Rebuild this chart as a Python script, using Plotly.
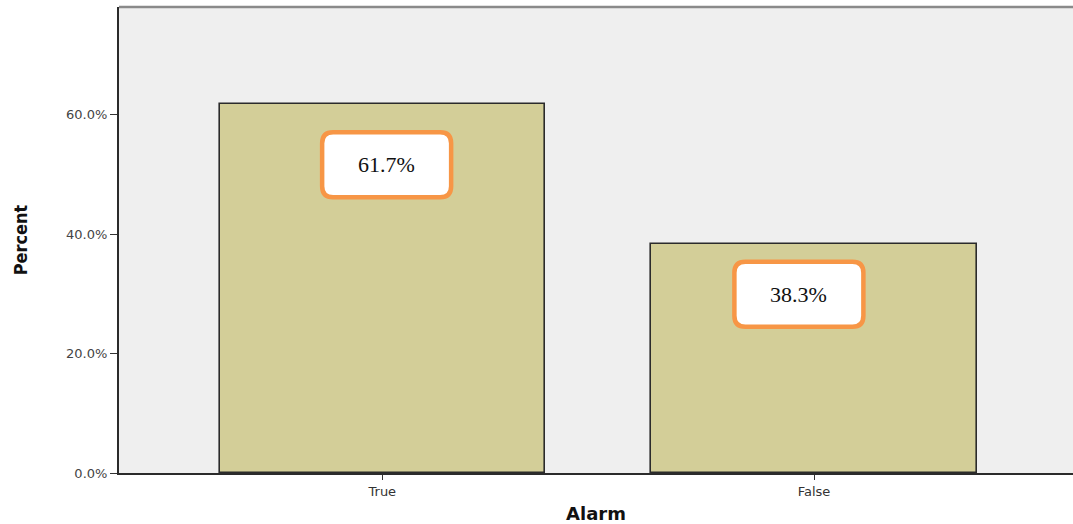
import plotly.graph_objects as go

# Alarm outcome shares (percent of cases)
categories = ["True", "False"]
percent = [61.7, 38.3]
label_text = ["61.7%", "38.3%"]
y_ticks = [0, 20, 40, 60]
y_tick_text = ["0.0%", "20.0%", "40.0%", "60.0%"]

x_pos = list(range(len(categories)))

# where each callout box sits (bar offset in category units, height in %)
box_dx = [0.01, -0.035]
box_y = [51.6, 29.9]

fig = go.Figure()
fig.add_trace(go.Bar(
    x=x_pos,
    y=percent,
    width=0.753,
    marker=dict(color="#D3CE98", line=dict(color="#2b2b2b", width=1.6)),
    hoverinfo="skip",
    showlegend=False,
))


def rounded_rect(w, h, r):
    x0, x1, y0, y1 = -w / 2, w / 2, -h / 2, h / 2
    return (
        f"M {x0 + r},{y0} L {x1 - r},{y0} Q {x1},{y0} {x1},{y0 + r} "
        f"L {x1},{y1 - r} Q {x1},{y1} {x1 - r},{y1} "
        f"L {x0 + r},{y1} Q {x0},{y1} {x0},{y1 - r} "
        f"L {x0},{y0 + r} Q {x0},{y0} {x0 + r},{y0} Z"
    )


shapes = []
annotations = []
for i, txt in enumerate(label_text):
    cx = x_pos[i] + box_dx[i]
    shapes.append(dict(
        type="path",
        xref="x", yref="y",
        xsizemode="pixel", ysizemode="pixel",
        xanchor=cx, yanchor=box_y[i],
        path=rounded_rect(129, 65, 11),
        fillcolor="white",
        line=dict(color="#F79646", width=4.5),
        layer="above",
    ))
    annotations.append(dict(
        x=cx, y=box_y[i], xref="x", yref="y",
        text=txt, showarrow=False,
        font=dict(family="Liberation Serif, Times New Roman, serif", size=22, color="#111111"),
    ))

# grey frame line along the top of the plotting area
shapes.append(dict(
    type="line", xref="paper", yref="paper",
    x0=0, x1=1, y0=1, y1=1,
    line=dict(color="#8a8a8a", width=2.5),
))

fig.update_layout(
    width=1073, height=524,
    margin=dict(l=119, r=0, t=7, b=51),
    paper_bgcolor="white",
    plot_bgcolor="#EFEFEF",
    shapes=shapes,
    annotations=annotations,
    bargap=0,
    xaxis=dict(
        range=[-0.61, 1.60],
        tickvals=x_pos,
        ticktext=categories,
        ticks="outside", ticklen=5, tickwidth=1.2, tickcolor="#333333",
        showline=True, linecolor="#2b2b2b", linewidth=2,
        showgrid=False, zeroline=False,
        tickfont=dict(family="DejaVu Sans, sans-serif", size=13, color="#333333"),
        title=dict(text="<b>Alarm</b>", standoff=12,
                   font=dict(family="DejaVu Sans, sans-serif", size=18, color="#111111")),
        fixedrange=True,
    ),
    yaxis=dict(
        range=[0, 78],
        tickvals=y_ticks,
        ticktext=y_tick_text,
        ticks="outside", ticklen=7, tickwidth=1.2, tickcolor="#333333",
        showline=True, linecolor="#2b2b2b", linewidth=2,
        showgrid=False, zeroline=False,
        tickfont=dict(family="DejaVu Sans, sans-serif", size=13, color="#444444"),
        title=dict(text="<b>Percent</b>", standoff=34,
                   font=dict(family="DejaVu Sans Condensed, DejaVu Sans, sans-serif", size=18, color="#111111")),
        fixedrange=True,
    ),
)

fig.write_html("out.html")
